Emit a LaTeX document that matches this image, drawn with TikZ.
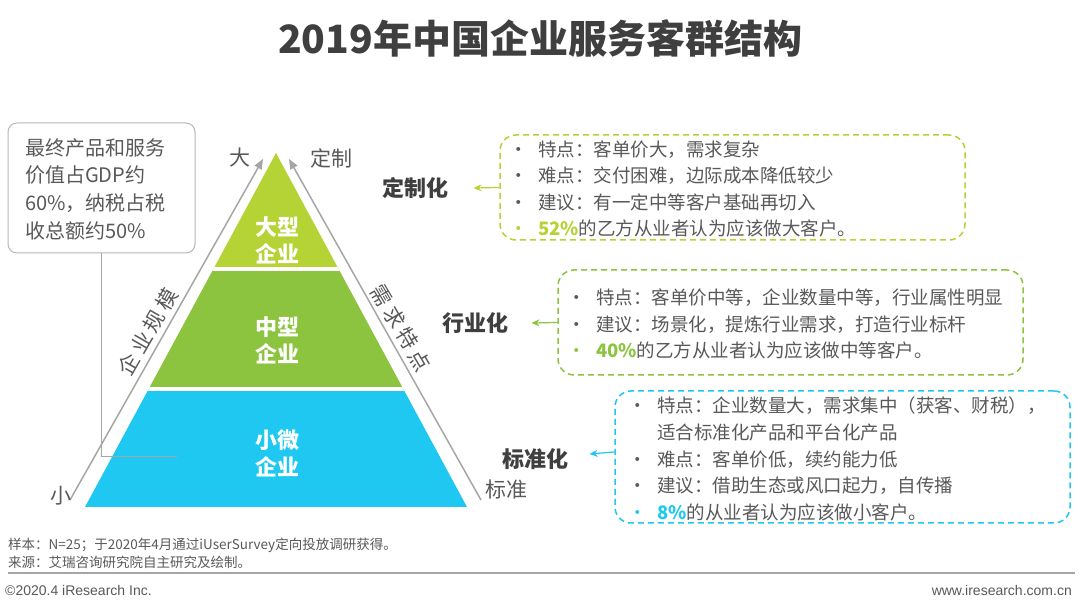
\documentclass[tikz,border=0pt]{standalone}
\usepackage{fontspec}
\setmainfont{Noto Sans CJK SC}
\newfontfamily\latfont{Liberation Sans}
\usetikzlibrary{arrows.meta}
\definecolor{yg}{HTML}{B5D334}
\definecolor{mg}{HTML}{8CC43F}
\definecolor{bc}{HTML}{1FC8F1}
\definecolor{tx}{HTML}{595959}
\definecolor{dk}{HTML}{3F3F3F}
\definecolor{ln}{HTML}{A6A6A6}
\newcommand{\bul}[1][tx]{\makebox[19pt][c]{\textcolor{#1}{•}}\hspace*{9.5pt}}
\newcommand{\hs}{\hspace{4pt}}
\begin{document}
\begin{tikzpicture}[x=1pt,y=-1pt,
  txt/.style={text=tx, inner sep=0pt, anchor=west, align=left, font=\fontsize{18.5}{26.5}\selectfont},
  lay/.style={text=white, align=center, font=\fontsize{22}{27}\selectfont\bfseries},
  axl/.style={text=tx, font=\fontsize{21}{21}\selectfont},
  cat/.style={text=dk, font=\fontsize{22}{22}\selectfont\bfseries},
  dbox/.style={draw=#1, dash pattern=on 6pt off 4pt, line width=1.5pt, rounded corners=16pt},
  garr/.style={draw=#1, line width=1.2pt, -{Stealth[length=8pt,width=7pt]}},
  axarr/.style={draw=ln, line width=1.5pt, -{Triangle[length=10pt,width=8pt]}},
  foot/.style={text=tx, inner sep=0pt, anchor=west, font=\fontsize{13.5}{15}\selectfont},
  lfoot/.style={text=tx, inner sep=0pt, anchor=west, font=\latfont\fontsize{14}{15}\selectfont}
]
\useasboundingbox (0,0) rectangle (1080,609);
\fill[white] (0,0) rectangle (1080,609);

% title
\node[text=dk, font=\fontsize{39}{39}\selectfont\bfseries] (title) at (540,38) {2019年中国企业服务客群结构};

% pyramid
\coordinate (apex) at (276,153);
\coordinate (pL) at (85,507);
\coordinate (pR) at (467,507);
\begin{scope}
\clip (apex) -- (pL) -- (pR) -- cycle;
\fill[yg] (80,150) rectangle (480,269);
\fill[mg] (80,269) rectangle (480,389);
\fill[bc] (80,389) rectangle (480,510);
\draw[white, line width=4pt] (80,269) -- (480,269) (80,389) -- (480,389);
\end{scope}
\node[lay] (big) at (277,240) {大型\\企业};
\node[lay] (mid) at (277,340) {中型\\企业};
\node[lay] (small) at (277,453) {小微\\企业};

% axes
\coordinate (la0) at (70,500);
\coordinate (la1) at (263,159);
\coordinate (ra0) at (481,500);
\coordinate (ra1) at (289,159);
\draw[axarr] (la0) -- (la1);
\draw[axarr] (ra0) -- (ra1);
\node[axl] (da) at (240,158) {大};
\node[axl] (dz) at (331,158) {定制};
\node[axl] (xi) at (61,496) {小};
\node[axl] (bz) at (506,490) {标准};
\node[axl, rotate=60, font=\fontsize{21}{21}\selectfont] (gm) at (148,332) {企\hs 业\hs 规\hs 模};
\node[axl, rotate=-59.5, font=\fontsize{21}{21}\selectfont] (xq) at (401,328) {需\hs 求\hs 特\hs 点};

% grey note box
\node[draw=ln!80, line width=1pt, rounded corners=9pt, minimum width=187pt, minimum height=130pt] (gbox) at (101.5,188) {};
\node[txt, font=\fontsize{20}{27.7}\selectfont] (gtxt) at (25,189) {最终产品和服务\\价值占GDP约\\60\%，纳税占税\\收总额约50\%};
\coordinate (gend) at (177,457);
\draw[ln, line width=1pt] (gbox.south) |- (gend);

% right boxes
\node[dbox=yg, minimum width=465pt, minimum height=105pt] (b1) at (732.5,187.5) {};
\node[dbox=mg, minimum width=465pt, minimum height=105pt] (b2) at (790.5,322.5) {};
\node[dbox=bc, minimum width=455pt, minimum height=132pt] (b3) at (842.5,457) {};

\node[txt] (t1) at (509.5,189) {\bul 特点：客单价大，需求复杂\\
\bul 难点：交付困难，边际成本降低较少\\
\bul 建议：有一定中等客户基础再切入\\
\bul[yg]\textcolor{yg}{\bfseries 52\%}的乙方从业者认为应该做大客户。};
\node[txt] (t2) at (567.5,324) {\bul 特点：客单价中等，企业数量中等，行业属性明显\\
\bul 建议：场景化，提炼行业需求，打造行业标杆\\
\bul[mg]\textcolor{mg}{\bfseries 40\%}的乙方从业者认为应该做中等客户。};
\node[txt, font=\fontsize{18.5}{26.75}\selectfont] (t3) at (628.5,459) {\bul 特点：企业数量大，需求集中（获客、财税），\\
\hspace*{28.5pt}适合标准化产品和平台化产品\\
\bul 难点：客单价低，续约能力低\\
\bul 建议：借助生态或风口起力，自传播\\
\bul[bc]\textcolor{bc}{\bfseries 8\%}的从业者认为应该做小客户。};

% category labels
\node[cat] (c1) at (415,188) {定制化};
\node[cat] (c2) at (475,323) {行业化};
\node[cat] (c3) at (535,459) {标准化};
\draw[garr=yg] (b1.west) -- ([xshift=22pt]c1.east);
\draw[garr=mg] (b2.west) -- ([xshift=20pt]c2.east);
\draw[garr=bc] ([yshift=5pt]b3.west) -- ([xshift=18pt,yshift=5pt]c3.east);

% footer
\node[foot] (n1) at (8,545) {样本：N=25；于2020年4月通过iUserSurvey定向投放调研获得。};
\node[foot] (n2) at (8,562) {来源：艾瑞咨询研究院自主研究及绘制。};
\coordinate (f0) at (8,573);
\coordinate (f1) at (1075,573);
\draw[ln, line width=2pt] (f0) -- (f1);
\node[lfoot] (cp) at (5,590) {©2020.4 iResearch Inc.};
\node[lfoot, anchor=east] (www) at (1072,590) {www.iresearch.com.cn};
\end{tikzpicture}
\end{document}
